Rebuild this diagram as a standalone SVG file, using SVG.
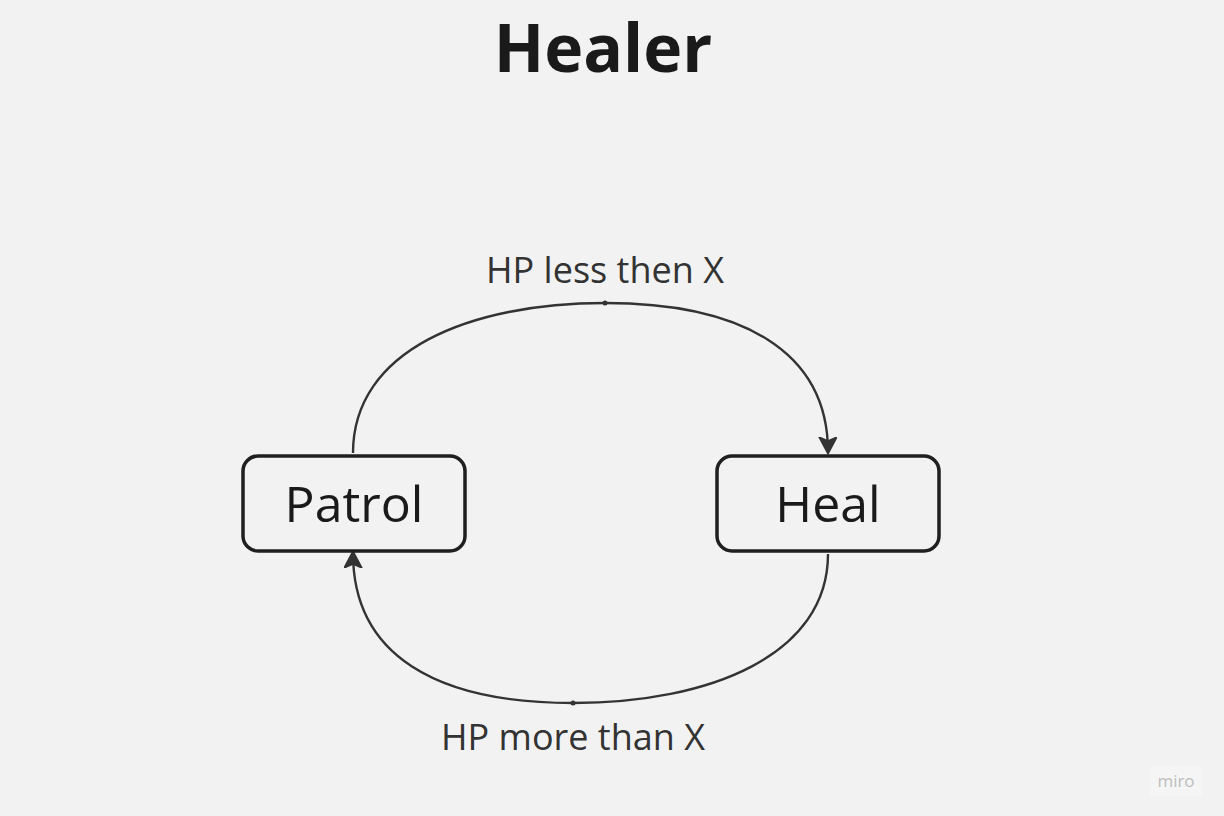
<svg xmlns="http://www.w3.org/2000/svg" width="1224" height="816" viewBox="0 0 1224 816">
<style>
.box{fill:#f2f2f2;stroke:#1f1f1f;stroke-width:3.5}
.nt{font-family:"Open Sans",sans-serif;font-size:50px;fill:#1a1a1a;text-anchor:middle}
.lbl{font-family:"Open Sans",sans-serif;font-size:36px;fill:#333333;text-anchor:middle}
.edge{fill:none;stroke:#333333;stroke-width:2.4}
</style>
<defs>
<marker id="arr" markerWidth="20" markerHeight="20" refX="15" refY="9" orient="auto" markerUnits="userSpaceOnUse">
<path d="M0,0 L17,9 L0,18 L4,9 Z" fill="#333333" stroke="#333333" stroke-width="1.5" stroke-linejoin="round"/>
</marker>
</defs>
<rect width="1224" height="816" fill="#f2f2f2"/>
<text x="603" y="72" font-family="'Open Sans',sans-serif" font-size="66" font-weight="bold" fill="#1a1a1a" text-anchor="middle">Healer</text>
<g id="connectors">
<path class="edge" d="M353,453 C353,350 470,303 605,303 C740,303 828,350 828,452" marker-end="url(#arr)"/>
<circle cx="605" cy="303" r="2.5" fill="#333"/>
<path class="edge" d="M828,554 C828,655 710,703 573,703 C436,703 353,655 353,553" marker-end="url(#arr)"/>
<circle cx="573" cy="703" r="2.5" fill="#333"/>
<text class="lbl" x="605" y="283">HP less then X</text>
<text class="lbl" x="573" y="750">HP more than X</text>
</g>
<g id="patrol">
<rect class="box" x="243" y="456" width="222" height="95" rx="15"/>
<text class="nt" x="354" y="522">Patrol</text>
</g>
<g id="heal">
<rect class="box" x="717" y="456" width="222" height="95" rx="15"/>
<text class="nt" x="828" y="522">Heal</text>
</g>
<g id="logo">
<rect x="1150" y="766" width="52" height="30" rx="3" fill="#f5f5f5"/>
<text x="1176" y="787" font-family="'Open Sans',sans-serif" font-size="17" fill="#bdbdbd" text-anchor="middle">miro</text>
</g>
</svg>
